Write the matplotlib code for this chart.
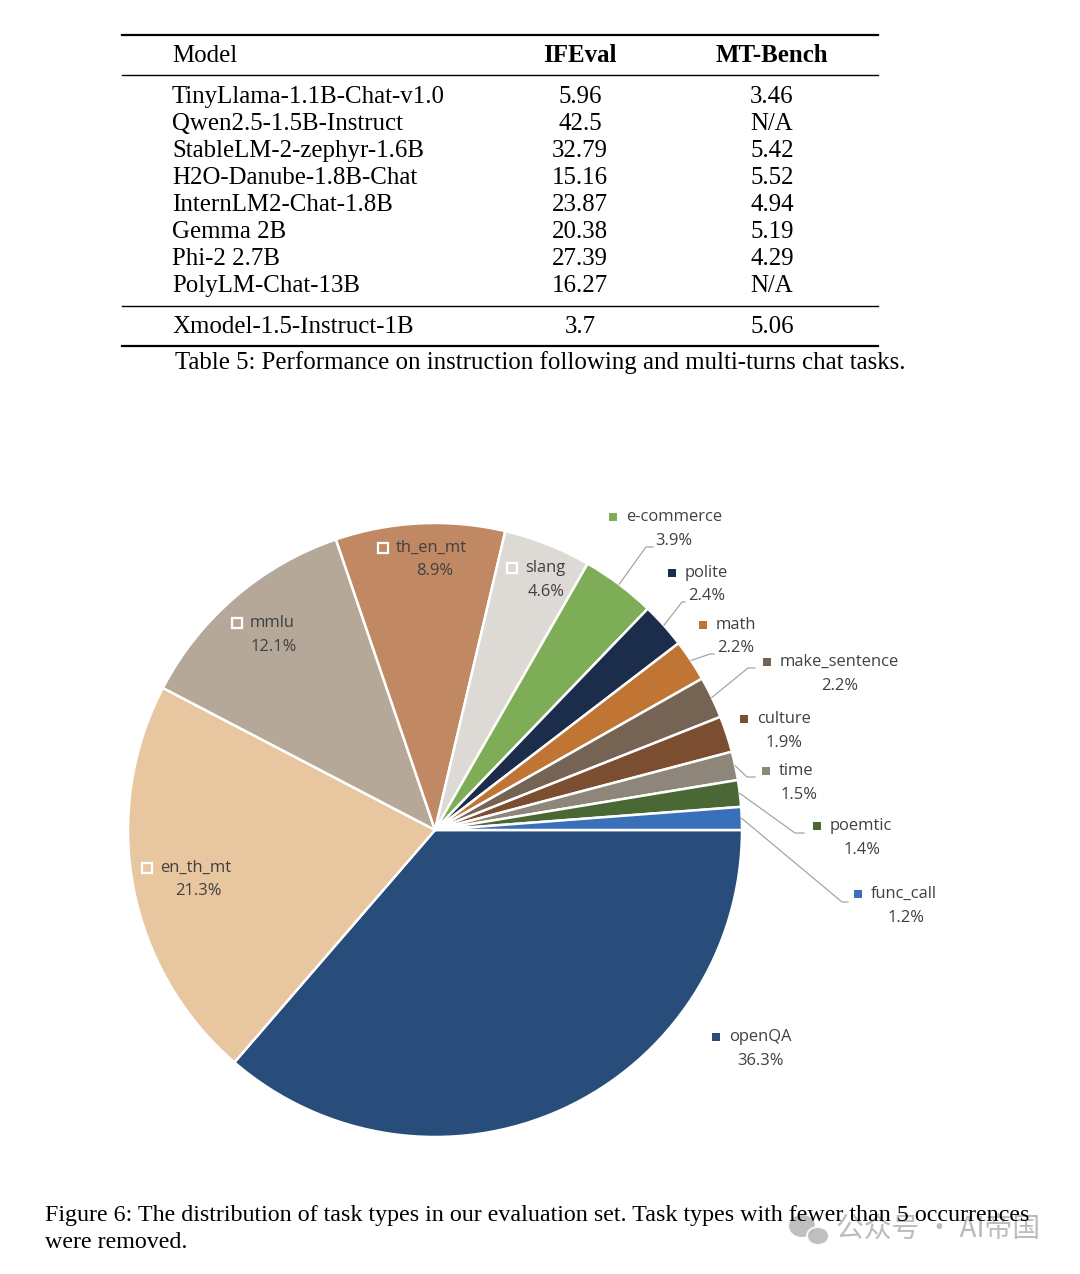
import matplotlib
matplotlib.use('Agg')
import matplotlib.pyplot as plt
from matplotlib.patches import Ellipse
import math

W, H = 1080, 1274

# ---------------- data ----------------
models = ["TinyLlama-1.1B-Chat-v1.0", "Qwen2.5-1.5B-Instruct", "StableLM-2-zephyr-1.6B",
          "H2O-Danube-1.8B-Chat", "InternLM2-Chat-1.8B", "Gemma 2B", "Phi-2 2.7B",
          "PolyLM-Chat-13B"]
ifeval = ["5.96", "42.5", "32.79", "15.16", "23.87", "20.38", "27.39", "16.27"]
mtbench = ["3.46", "N/A", "5.42", "5.52", "4.94", "5.19", "4.29", "N/A"]
our_model = "Xmodel-1.5-Instruct-1B"
our_ifeval = "3.7"
our_mtbench = "5.06"
table_caption = "Table 5: Performance on instruction following and multi-turns chat tasks."

task_types = ["openQA", "en_th_mt", "mmlu", "th_en_mt", "slang", "e-commerce", "polite",
              "math", "make_sentence", "culture", "time", "poemtic", "func_call"]
shares = [36.3, 21.3, 12.1, 8.9, 4.6, 3.9, 2.4, 2.2, 2.2, 1.9, 1.5, 1.4, 1.2]
colors = ["#294D7A", "#E8C6A0", "#B5A899", "#C08963", "#DDD9D4", "#7DAD57", "#1B2D4B",
          "#C07534", "#756454", "#7C4E31", "#8E867A", "#4A6834", "#3A70BA"]
fig_caption = ["Figure 6: The distribution of task types in our evaluation set. Task types with fewer than 5 occurrences",
               "were removed."]

# ---------------- layout (reference pixel coords) ----------------
pie_center = (435, 830)
pie_radius = 307
# marker x, name y, percent x, percent y
label_pos = {
    "openQA": (716, 1037, 760, 1061),
    "en_th_mt": (147, 868, 198, 891),
    "mmlu": (237, 623, 274, 647),
    "th_en_mt": (383, 548, 435, 571),
    "slang": (512, 568, 546, 592),
    "e-commerce": (613, 517, 674, 541),
    "polite": (672, 573, 707, 596),
    "math": (703, 625, 736, 648),
    "make_sentence": (767, 662, 840, 686),
    "culture": (744, 719, 784, 743),
    "time": (766, 771, 799, 795),
    "poemtic": (817, 826, 862, 850),
    "func_call": (858, 894, 906, 918),
}
hollow = {"en_th_mt", "mmlu", "th_en_mt", "slang"}
# leader line elbow and end points
leaders = {
    "e-commerce": [(646, 547), (653, 547)],
    "polite": [(682, 602), (685, 602)],
    "math": [(710, 654), (714, 654)],
    "make_sentence": [(748, 668), (755, 668)],
    "time": [(747, 777), (755, 777)],
    "poemtic": [(795, 833), (804, 833)],
    "func_call": [(842, 902), (848, 902)],
}


def Y(y):
    return H - y


fig = plt.figure(figsize=(W / 100, H / 100), dpi=100)
ax = fig.add_axes([0, 0, 1, 1])

serif = "Liberation Serif"
tfs = 17.9
cfs = 17.3
dy = 2  # vertical nudge for serif text

# ---------------- table ----------------
x0, x1 = 122, 878
ax.plot([x0, x1], [Y(35), Y(35)], color="black", lw=1.6)
ax.plot([x0, x1], [Y(75), Y(75)], color="black", lw=1.0)
ax.plot([x0, x1], [Y(306), Y(306)], color="black", lw=1.0)
ax.plot([x0, x1], [Y(346), Y(346)], color="black", lw=1.6)

col_model, col_if, col_mt = 172, 580, 772
ax.text(col_model, Y(54 + dy), "Model", family=serif, fontsize=tfs, ha="left", va="center")
ax.text(col_if, Y(54 + dy), "IFEval", family=serif, fontsize=tfs, ha="center", va="center", fontweight="bold")
ax.text(col_mt, Y(54 + dy), "MT-Bench", family=serif, fontsize=tfs, ha="center", va="center", fontweight="bold")
for i, (m, a, b) in enumerate(zip(models, ifeval, mtbench)):
    yy = Y(95 + 27 * i + dy)
    ax.text(col_model, yy, m, family=serif, fontsize=tfs, ha="left", va="center")
    ax.text(col_if, yy, a, family=serif, fontsize=tfs, ha="center", va="center")
    ax.text(col_mt, yy, b, family=serif, fontsize=tfs, ha="center", va="center")
ax.text(col_model, Y(325 + dy), our_model, family=serif, fontsize=tfs, ha="left", va="center")
ax.text(col_if, Y(325 + dy), our_ifeval, family=serif, fontsize=tfs, ha="center", va="center")
ax.text(col_mt, Y(325 + dy), our_mtbench, family=serif, fontsize=tfs, ha="center", va="center")
ax.text(175, Y(361 + dy), table_caption, family=serif, fontsize=tfs, ha="left", va="center")

# ---------------- pie ----------------
wedges, _ = ax.pie(shares, colors=colors, startangle=0, counterclock=False,
                   center=(pie_center[0], Y(pie_center[1])), radius=pie_radius,
                   wedgeprops=dict(edgecolor="white", linewidth=1.8), frame=False)

sans = "Open Sans"
lfs = 11.9
lcol = "#404040"
for name, v, c, w in zip(task_types, shares, colors, wedges):
    mx, ny, px, py = label_pos[name]
    if name in hollow:
        ax.plot([mx], [Y(ny)], marker="s", ms=7, mfc="none", mec="white", mew=1.6, zorder=5)
    else:
        ax.plot([mx], [Y(ny)], marker="s", ms=6, mfc=c, mec=c, mew=0, zorder=5)
    ax.text(mx + 13, Y(ny), name, family=sans, fontsize=lfs, color=lcol, ha="left", va="center")
    ax.text(px, Y(py), f"{v}%", family=sans, fontsize=lfs, color=lcol, ha="center", va="center")
    if name in leaders:
        mid = math.radians((w.theta1 + w.theta2) / 2)
        sx = pie_center[0] + pie_radius * math.cos(mid)
        sy = Y(pie_center[1]) + pie_radius * math.sin(mid)
        pts = [(sx, sy)] + [(a, Y(b)) for a, b in leaders[name]]
        ax.plot([p[0] for p in pts], [p[1] for p in pts], color="#A6A6A6", lw=0.9, zorder=1)

# ---------------- figure caption ----------------
ax.text(45, Y(1213 + dy), fig_caption[0], family=serif, fontsize=cfs, ha="left", va="center", zorder=9)
ax.text(45, Y(1241 + dy), fig_caption[1], family=serif, fontsize=cfs, ha="left", va="center", zorder=9)

# ---------------- watermark ----------------
wm = "#B4B4B4"
ax.add_patch(Ellipse((802, Y(1226)), 26, 22, facecolor=wm, edgecolor="none", alpha=0.85, zorder=6))
ax.add_patch(Ellipse((818, Y(1236)), 22, 18, facecolor=wm, edgecolor="white", lw=1.5, alpha=0.85, zorder=7))
ax.text(836, Y(1230), "公众号 · AI帝国", family=["Noto Sans CJK SC", "DejaVu Sans"],
        fontsize=20, color=wm, ha="left", va="center", alpha=0.9, zorder=8)

ax.set_xlim(0, W)
ax.set_ylim(0, H)
ax.set_aspect("equal")
ax.axis("off")
fig.savefig("out.png", dpi=100, facecolor="white")
